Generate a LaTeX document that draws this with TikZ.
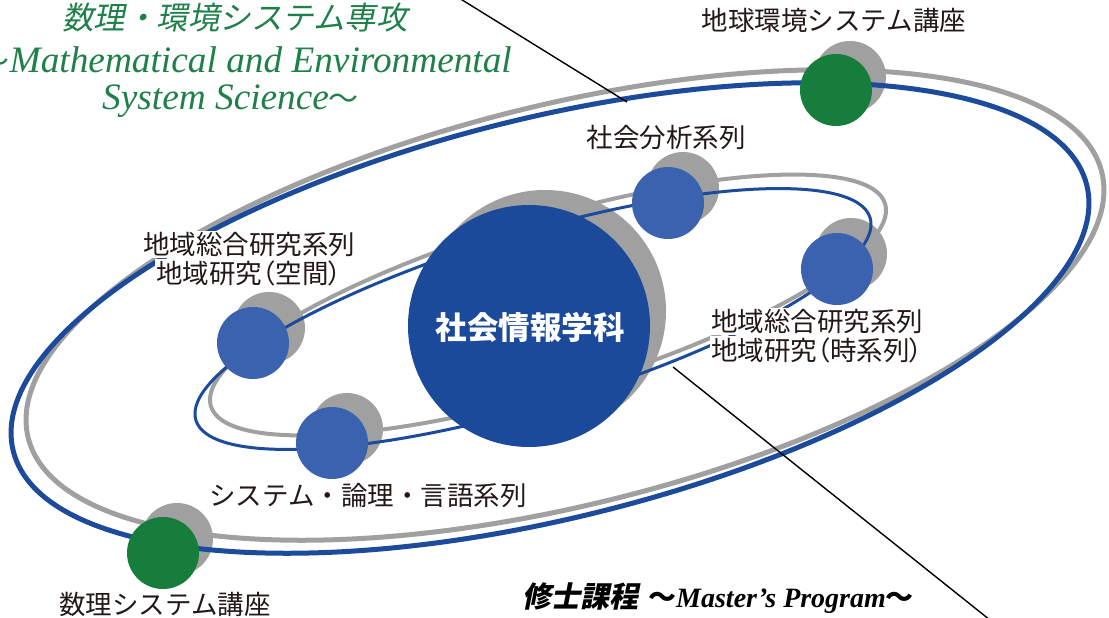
\documentclass[tikz,border=0pt]{standalone}
\usepackage{fontspec}
\newfontfamily\jp{Noto Sans CJK JP}
\newfontfamily\jpp{Noto Sans CJK JP}[RawFeature=+palt]
\newfontfamily\jpsl{Noto Sans CJK JP}[FakeSlant=0.2]
\newfontfamily\lser{Liberation Serif}
\definecolor{orbblue}{HTML}{1C4B9C}
\definecolor{bigblue}{HTML}{1B4A9B}
\definecolor{pblue}{HTML}{3A62AE}
\definecolor{shd}{HTML}{A0A0A0}
\definecolor{pgreen}{HTML}{177D3C}
\definecolor{tgreen}{HTML}{1F8049}
\definecolor{ink}{HTML}{231815}
\newcommand\jlp{{\jpp （}}
\newcommand\jrp{{\jpp ）}}
\newcommand\halotext[1]{{\setlength{\fboxsep}{1.5pt}\colorbox{white}{#1}}}
\tikzset{
  shadowdot/.style={circle, fill=shd, inner sep=0pt, minimum size=72pt},
  planet/.style={circle, fill=pblue, inner sep=0pt, minimum size=72pt},
  gplanet/.style={circle, fill=pgreen, inner sep=0pt, minimum size=72pt},
  lbl/.style={font=\jp\fontsize{26.5}{28}\selectfont, text=ink, align=center, inner sep=0pt},
  guide/.style={black, line width=1.4pt},
}
\begin{document}
\begin{tikzpicture}[x=1pt,y=-1pt]
\useasboundingbox (0,0) rectangle (1109,618);
\fill[white] (0,0) rectangle (1109,618);
% shadows
\node[shadowdot, minimum size=242pt] (bigs) at (545,311) {};
\node[shadowdot] (s1) at (683,188) {};
\node[shadowdot] (s2) at (851,254) {};
\node[shadowdot] (s3) at (269,328) {};
\node[shadowdot] (s4) at (347,429) {};
\node[shadowdot] (s5) at (850,77) {};
\node[shadowdot] (s6) at (177,539) {};
% orbits
\draw[shd, line width=5pt, rotate around={13.9:(565,305)}] (565,305) ellipse [x radius=553pt, y radius=200pt];
\draw[orbblue, line width=5pt, rotate around={13.9:(550,318)}] (550,318) ellipse [x radius=553pt, y radius=200pt];
\draw[shd, line width=4pt, rotate around={16.7:(548,305)}] (548,305) ellipse [x radius=352pt, y radius=86pt];
\draw[orbblue, line width=3pt, rotate around={16.7:(533,319)}] (533,319) ellipse [x radius=352pt, y radius=86pt];
% guide lines
\coordinate (ga) at (459,-2);
\coordinate (gb) at (627,102);
\coordinate (gc) at (673,367);
\coordinate (gd) at (990,620);
\draw[guide] (ga) -- (gb);
\draw[guide] (gc) -- (gd);
% circles
\node[circle, fill=bigblue, inner sep=0pt, minimum size=242pt] (big) at (529,326) {};
\node[planet] (p1) at (668,203) {};
\node[planet] (p2) at (837,269) {};
\node[planet] (p3) at (253,343) {};
\node[planet] (p4) at (332,443) {};
\node[gplanet] (g1) at (836,90) {};
\node[gplanet] (g2) at (163,553) {};
% labels
\node[font=\jp\bfseries\fontsize{31.5}{34}\selectfont, text=white, inner sep=0pt] (bigl) at (530,327) {社会情報学科};
\node[lbl] (l1) at (834,20) {地球環境システム講座};
\node[lbl] (l2) at (666,137) {社会分析系列};
\node[lbl, font=\jp\fontsize{26.5}{27}\selectfont] (l3) at (249,259) {\halotext{地域総合研究系列}\\\halotext{地域研究\jlp 空間\jrp}};
\node[lbl, font=\jp\fontsize{26.5}{27}\selectfont] (l4) at (817,336) {\halotext{地域総合研究系列}\\\halotext{地域研究\jlp 時系列\jrp}};
\node[lbl] (l5) at (368,495) {システム・論理・言語系列};
\node[lbl] (l6) at (165,604) {数理システム講座};
% title texts
\node[font=\jpsl\fontsize{31.5}{32}\selectfont, text=tgreen, inner sep=0pt] (t1) at (235,18) {数理・環境システム専攻};
\node[font=\lser\itshape\fontsize{37.3}{40}\selectfont, text=tgreen, inner sep=0pt, anchor=base east] (t2) at (512,73) {{\jp\fontsize{30}{30}\selectfont 〜}Mathematical and Environmental};
\node[font=\lser\itshape\fontsize{37.3}{40}\selectfont, text=tgreen, inner sep=0pt, anchor=base west] (t3) at (102,110) {System Science{\jp\fontsize{30}{30}\selectfont 〜}};
\node[font=\jpsl\bfseries\fontsize{29}{30}\selectfont, text=black, inner sep=0pt, anchor=base west] (m1) at (522,607) {修士課程};
\node[font=\lser\bfseries\itshape\fontsize{28}{30}\selectfont, text=black, inner sep=0pt, anchor=base west] (m2) at (648,607) {{\jp 〜}Master’s Program{\jp 〜}};
\end{tikzpicture}
\end{document}
